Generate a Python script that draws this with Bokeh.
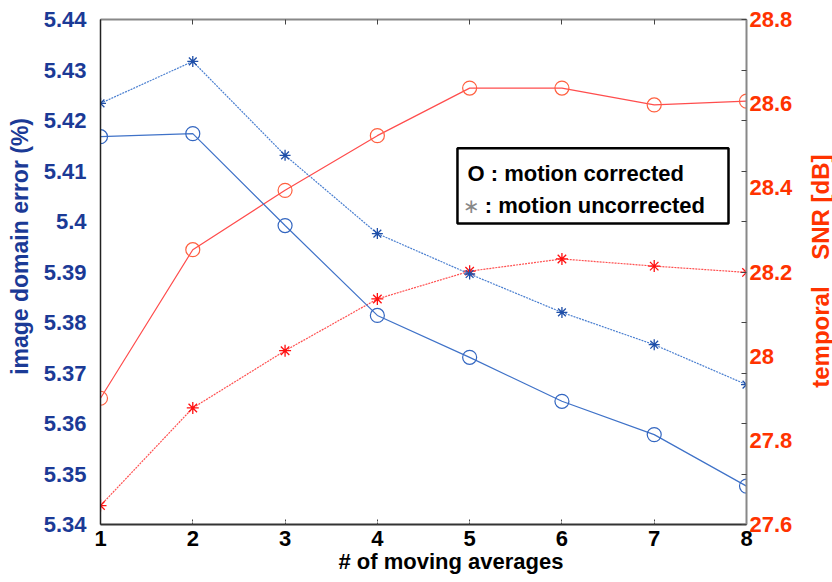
import math
from bokeh.plotting import figure
from bokeh.layouts import row
from bokeh.models import Range1d, LinearAxis, FixedTicker, BoxAnnotation, Label
from bokeh.embed import file_html
from bokeh.resources import INLINE

# ---- data ----
n_avg = [1, 2, 3, 4, 5, 6, 7, 8]
err_corrected = [5.4168, 5.4174, 5.3992, 5.3814, 5.3731, 5.3644, 5.3578, 5.3476]
err_uncorrected = [5.4234, 5.4317, 5.4131, 5.3976, 5.3896, 5.3820, 5.3756, 5.3677]
snr_corrected = [27.900, 28.253, 28.394, 28.524, 28.637, 28.637, 28.597, 28.606]
snr_uncorrected = [27.645, 27.877, 28.013, 28.136, 28.202, 28.231, 28.214, 28.199]

left_ticks = [5.34, 5.35, 5.36, 5.37, 5.38, 5.39, 5.40, 5.41, 5.42, 5.43, 5.44]
left_labels = ["5.34", "5.35", "5.36", "5.37", "5.38", "5.39", "5.4", "5.41", "5.42", "5.43", "5.44"]
right_ticks = [27.6, 27.8, 28.0, 28.2, 28.4, 28.6, 28.8]
right_labels = ["27.6", "27.8", "28", "28.2", "28.4", "28.6", "28.8"]
x_ticks = [1, 2, 3, 4, 5, 6, 7, 8]

FONT = "Liberation Sans"
BLUE_TXT = "#1b3a96"
RED_TXT = "#ff3300"
NB = "\u00a0"

p = figure(width=806, height=582, output_backend="svg", toolbar_location=None,
           x_range=Range1d(1, 8), y_range=Range1d(5.34, 5.44),
           min_border_left=100, min_border_right=60, min_border_top=19, min_border_bottom=58)
p.extra_y_ranges = {"snr": Range1d(27.6, 28.8)}
p.grid.visible = False
p.outline_line_color = None
p.background_fill_color = "white"

# bottom axis
xa = p.xaxis[0]
xa.ticker = FixedTicker(ticks=x_ticks)
xa.major_tick_in = 5
xa.major_tick_out = 0
xa.minor_tick_line_color = None
xa.major_tick_line_color = "#444444"
xa.major_tick_line_dash = "2 1"
xa.axis_line_color = "#333333"
xa.axis_line_width = 2
xa.major_label_text_font = FONT
xa.major_label_text_font_style = "bold"
xa.major_label_text_font_size = "22px"
xa.major_label_text_color = "black"
xa.major_label_standoff = 6
xa.axis_label = NB * 9 + "# of moving averages"
xa.axis_label_text_font = FONT
xa.axis_label_text_font_style = "bold"
xa.axis_label_text_font_size = "22px"
xa.axis_label_text_color = "black"
xa.axis_label_standoff = 0

# left axis
ya = p.yaxis[0]
ya.ticker = FixedTicker(ticks=left_ticks)
ya.major_label_overrides = {t: l for t, l in zip(left_ticks, left_labels)}
ya.major_tick_in = 0
ya.major_tick_out = 0
ya.minor_tick_line_color = None
ya.axis_line_color = "#222222"
ya.axis_line_width = 1.5
ya.major_label_text_font = FONT
ya.major_label_text_font_style = "bold"
ya.major_label_text_font_size = "22px"
ya.major_label_text_color = BLUE_TXT
ya.major_label_standoff = 14
ya.axis_label = NB * 8 + "image domain error (%)"
ya.axis_label_text_font = FONT
ya.axis_label_text_font_style = "bold"
ya.axis_label_text_font_size = "23px"
ya.axis_label_text_color = BLUE_TXT
ya.axis_label_standoff = 8

# top mirror axis
top = LinearAxis(ticker=FixedTicker(ticks=x_ticks), major_tick_in=5, major_tick_out=0,
                 minor_tick_line_color=None, major_label_text_font_size="1px",
                 major_label_overrides={t: "" for t in x_ticks},
                 major_label_standoff=0, axis_line_color="#888888", axis_line_width=2,
                 major_tick_line_color="#444444")
p.add_layout(top, "above")

# right mirror axis (left-axis ticks pointing in)
rmir = LinearAxis(ticker=FixedTicker(ticks=left_ticks), major_tick_in=5, major_tick_out=0,
                  minor_tick_line_color=None, major_label_text_font_size="1px",
                  major_label_overrides={t: "" for t in left_ticks},
                  major_label_standoff=0, axis_line_color="#888888", axis_line_width=2,
                  major_tick_line_color="#444444")
p.add_layout(rmir, "right")

# right SNR axis (tick labels only; its title sits in the strip beside the plot)
ra = LinearAxis(y_range_name="snr", ticker=FixedTicker(ticks=right_ticks))
ra.major_label_overrides = {t: l for t, l in zip(right_ticks, right_labels)}
ra.major_tick_in = 0
ra.major_tick_out = 0
ra.major_tick_line_color = None
ra.minor_tick_line_color = None
ra.axis_line_color = None
ra.major_label_text_font = FONT
ra.major_label_text_font_style = "bold"
ra.major_label_text_font_size = "22px"
ra.major_label_text_color = RED_TXT
ra.major_label_standoff = 3
p.add_layout(ra, "right")

# ---- series ----
# SNR (red)
p.line(n_avg, snr_corrected, y_range_name="snr", line_color="#ff4d4d", line_width=1.2)
p.scatter(n_avg, snr_corrected, y_range_name="snr", marker="circle", size=14,
          fill_color=None, line_color="#ff6040", line_width=1.2)
p.line(n_avg, snr_uncorrected, y_range_name="snr", line_color="#ff5050", line_width=1.2,
       line_dash="2 1")
p.scatter(n_avg, snr_uncorrected, y_range_name="snr", marker="asterisk", size=12,
          line_color="#ff1010", line_width=1.3)

# image error (blue)
p.line(n_avg, err_corrected, line_color="#3f72c8", line_width=1.2)
p.scatter(n_avg, err_corrected, marker="circle", size=14, fill_color=None,
          line_color="#3366c0", line_width=1.2)
p.line(n_avg, err_uncorrected, line_color="#4a7fd0", line_width=1.2, line_dash="2 1")
p.scatter(n_avg, err_uncorrected, marker="asterisk", size=11, line_color="#1f4fa8",
          line_width=1.3)

# ---- legend box ----
p.add_layout(BoxAnnotation(left=4.868, right=7.805, top=5.4145, bottom=5.3996,
                           fill_color="white", fill_alpha=1.0,
                           line_color="black", line_alpha=1.0, line_width=2.5))
p.add_layout(Label(x=4.977, y=5.4095, text="O : motion corrected",
                   text_font=FONT, text_font_style="bold", text_font_size="22px",
                   text_color="black", text_baseline="middle"))
p.add_layout(Label(x=5.020, y=5.4030, text="\u2217",
                   text_font="DejaVu Sans", text_font_size="20px", text_align="center",
                   text_color="#888888", text_baseline="middle"))
p.add_layout(Label(x=5.165, y=5.4032, text=": motion uncorrected",
                   text_font=FONT, text_font_style="bold", text_font_size="22px",
                   text_color="black", text_baseline="middle"))

# ---- right-hand strip carrying the SNR axis title (reads bottom to top) ----
q = figure(width=26, height=582, output_backend="svg", toolbar_location=None,
           x_range=Range1d(0, 26), y_range=Range1d(0, 582),
           x_axis_location=None, y_axis_location=None,
           min_border_left=0, min_border_right=0, min_border_top=0, min_border_bottom=0)
q.grid.visible = False
q.outline_line_color = None
q.add_layout(Label(x=13.5, y=292, text="temporal" + NB * 4 + "SNR [dB]", angle=math.pi / 2,
                   text_font=FONT, text_font_style="bold", text_font_size="24px",
                   text_color=RED_TXT, text_align="center", text_baseline="middle"))

layout = row(p, q)
open("out.html", "w").write(file_html(layout, INLINE))
